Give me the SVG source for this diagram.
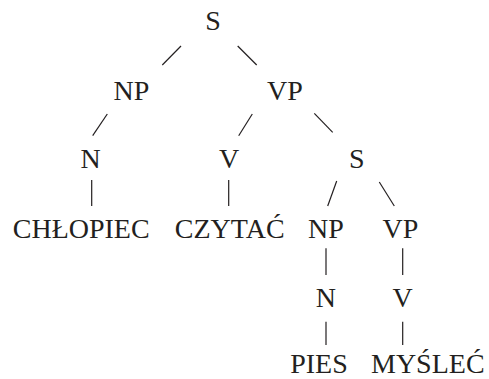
<svg xmlns="http://www.w3.org/2000/svg" width="489" height="379" viewBox="0 0 489 379">
  <style>
    text { font-family: "Liberation Serif", "Times New Roman", serif; font-size: 28px; fill: #231f20; text-anchor: middle; }
    .edge { stroke: #231f20; stroke-width: 1.2; fill: none; stroke-linecap: butt; }
  </style>
  <rect width="489" height="379" fill="#ffffff"/>
  <g id="connectors">
    <line class="edge" x1="181" y1="46" x2="162.3" y2="65"/>
    <line class="edge" x1="237.7" y1="46" x2="256.7" y2="65"/>
    <line class="edge" x1="107.3" y1="114" x2="92.7" y2="135.7"/>
    <line class="edge" x1="252.3" y1="114" x2="238.7" y2="135.7"/>
    <line class="edge" x1="314.3" y1="113.3" x2="332.7" y2="132.3"/>
    <line class="edge" x1="91.7" y1="180" x2="91.7" y2="206"/>
    <line class="edge" x1="228.7" y1="180" x2="228.7" y2="206"/>
    <line class="edge" x1="336.7" y1="181" x2="327.7" y2="206"/>
    <line class="edge" x1="379.3" y1="182" x2="394.3" y2="206"/>
    <line class="edge" x1="326" y1="248.3" x2="326" y2="275"/>
    <line class="edge" x1="402.7" y1="248.3" x2="402.7" y2="275"/>
    <line class="edge" x1="326" y1="321.7" x2="326" y2="345"/>
    <line class="edge" x1="402.7" y1="321.7" x2="402.7" y2="345"/>
  </g>
  <g id="s-root"><text x="213" y="30">S</text></g>
  <g id="np-subject"><text x="131.5" y="100">NP</text></g>
  <g id="vp-main"><text x="285" y="100">VP</text></g>
  <g id="n-subject"><text x="90.5" y="168">N</text></g>
  <g id="v-main"><text x="229" y="168">V</text></g>
  <g id="s-embedded"><text x="356.7" y="168">S</text></g>
  <g id="word-chlopiec"><text x="81.2" y="237.5">CHŁOPIEC</text></g>
  <g id="word-czytac"><text x="229.7" y="237.5">CZYTAĆ</text></g>
  <g id="np-embedded"><text x="326" y="237.5">NP</text></g>
  <g id="vp-embedded"><text x="400.5" y="237.5">VP</text></g>
  <g id="n-embedded"><text x="325.8" y="307">N</text></g>
  <g id="v-embedded"><text x="402.5" y="307">V</text></g>
  <g id="word-pies"><text x="319" y="372.5">PIES</text></g>
  <g id="word-myslec"><text x="427.8" y="372.5">MYŚLEĆ</text></g>
</svg>
